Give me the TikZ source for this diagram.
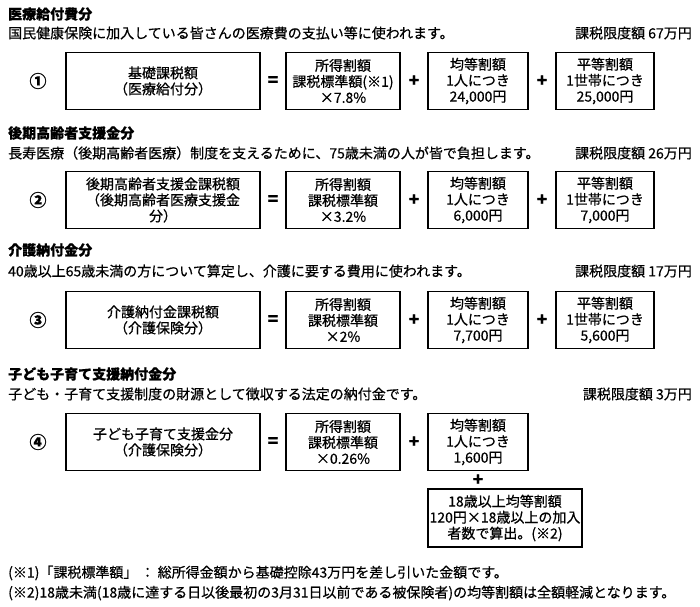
\documentclass[tikz,border=0pt]{standalone}
\usepackage{fontspec}
\setmainfont{Noto Sans CJK JP}[FakeBold=0.6]
\usetikzlibrary{positioning}
\tikzset{
  box/.style={draw, line width=1.6pt, align=center, minimum height=57pt, inner sep=1pt, font=\fontsize{14}{16}\selectfont},
  op/.style={font=\fontsize{17}{17}\selectfont\bfseries},
  head/.style={anchor=west, font=\fontsize{14}{14}\selectfont\bfseries, inner sep=0pt},
  line/.style={anchor=west, font=\fontsize{14}{14}\selectfont, inner sep=0pt},
  limit/.style={anchor=east, font=\fontsize{14}{14}\selectfont, inner sep=0pt}
}
\begin{document}
\begin{tikzpicture}[x=1pt, y=-1pt]
\useasboundingbox (0,0) rectangle (700,606);

% row 1
\node[head] (t1) at (8,14) {医療給付費分};
\node[line] (s1) at (8,33) {国民健康保険に加入している皆さんの医療費の支払い等に使われます。};
\node[limit] (l1) at (692,33) {課税限度額 67万円};
\node[op] (n1) at (38,81) {①};
\node[box, minimum width=194pt] (a1) at (163,81) {基礎課税額\\（医療給付分）};
\node[op] (e1) at (273,81) {=};
\node[box, minimum width=114pt] (b1) at (343,81) {所得割額\\課税標準額(※1)\\×7.8\%};
\node[op] (p1) at (414,81) {+};
\node[box, minimum width=100pt] (c1) at (478,81) {均等割額\\1人につき\\24,000円};
\node[op] (q1) at (542,81) {+};
\node[box, minimum width=98pt] (d1) at (605,81) {平等割額\\1世帯につき\\25,000円};

% row 2
\node[head] (t2) at (8,133) {後期高齢者支援金分};
\node[line] (s2) at (8,153) {長寿医療（後期高齢者医療）制度を支えるために、75歳未満の人が皆で負担します。};
\node[limit] (l2) at (692,153) {課税限度額 26万円};
\node[op] (n2) at (38,200) {②};
\node[box, minimum width=194pt, text width=170pt] (a2) at (163,200) {後期高齢者支援金課税額\\（後期高齢者医療支援金\\分）};
\node[op] (e2) at (273,200) {=};
\node[box, minimum width=114pt] (b2) at (343,200) {所得割額\\課税標準額\\×3.2\%};
\node[op] (p2) at (414,200) {+};
\node[box, minimum width=100pt] (c2) at (478,200) {均等割額\\1人につき\\6,000円};
\node[op] (q2) at (542,200) {+};
\node[box, minimum width=98pt] (d2) at (605,200) {平等割額\\1世帯につき\\7,000円};

% row 3
\node[head] (t3) at (8,250) {介護納付金分};
\node[line] (s3) at (8,271) {40歳以上65歳未満の方について算定し、介護に要する費用に使われます。};
\node[limit] (l3) at (692,271) {課税限度額 17万円};
\node[op] (n3) at (38,320) {③};
\node[box, minimum width=194pt] (a3) at (163,320) {介護納付金課税額\\（介護保険分）};
\node[op] (e3) at (273,320) {=};
\node[box, minimum width=114pt] (b3) at (343,320) {所得割額\\課税標準額\\×2\%};
\node[op] (p3) at (414,320) {+};
\node[box, minimum width=100pt] (c3) at (478,320) {均等割額\\1人につき\\7,700円};
\node[op] (q3) at (542,320) {+};
\node[box, minimum width=98pt] (d3) at (605,320) {平等割額\\1世帯につき\\5,600円};

% row 4
\node[head] (t4) at (8,374) {子ども子育て支援納付金分};
\node[line] (s4) at (8,394) {子ども・子育て支援制度の財源として徴収する法定の納付金です。};
\node[limit] (l4) at (692,394) {課税限度額 3万円};
\node[op] (n4) at (38,442) {④};
\node[box, minimum width=194pt] (a4) at (163,442) {子ども子育て支援金分\\（介護保険分）};
\node[op] (e4) at (273,442) {=};
\node[box, minimum width=114pt] (b4) at (343,442) {所得割額\\課税標準額\\×0.26\%};
\node[op] (p4) at (414,442) {+};
\node[box, minimum width=100pt] (c4) at (478,442) {均等割額\\1人につき\\1,600円};
\node[op] (u4) at (478,480) {+};
\node[box, minimum width=154pt, minimum height=58pt] (x4) at (505,518) {18歳以上均等割額\\120円×18歳以上の加入\\者数で算出。(※2)};

% notes
\node[line] (f1) at (8,573) {(※1)「課税標準額」 ： 総所得金額から基礎控除43万円を差し引いた金額です。};
\node[line] (f2) at (8,593) {(※2)18歳未満(18歳に達する日以後最初の3月31日以前である被保険者)の均等割額は全額軽減となります。};
\end{tikzpicture}
\end{document}
